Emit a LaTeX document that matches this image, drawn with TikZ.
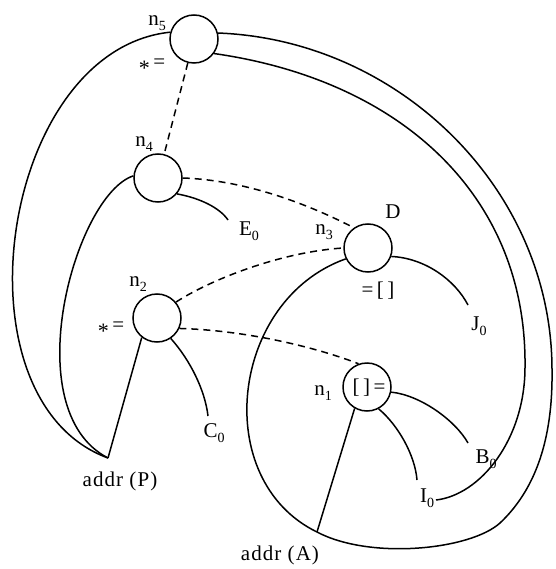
\documentclass[tikz,border=0pt]{standalone}
\usepackage{fontspec}
\setmainfont{Liberation Serif}
\newcommand\lsub[2]{#1\raisebox{-4.5pt}{\fontsize{14}{14}\selectfont #2}}
\newcommand\stareq{\raisebox{-7pt}{\fontsize{22}{22}\selectfont *}\,=}
\begin{document}
\begin{tikzpicture}[x=1pt,y=-1pt,
  vertex/.style={draw, circle, minimum size=48pt, inner sep=0pt, line width=1.5pt},
  edge/.style={line width=1.5pt},
  link/.style={line width=1.5pt, dash pattern=on 7pt off 5pt},
  lbl/.style={font=\fontsize{21}{23}\selectfont\addfontfeature{LetterSpace=5}, inner sep=0pt}]
\useasboundingbox (0,0) rectangle (555,569);

% operator nodes of the DAG
\node[vertex] (n5) at (194,39) {};
\node[vertex] (n4) at (158,178) {};
\node[vertex] (n3) at (368,248) {};
\node[vertex] (n2) at (157,318) {};
\node[vertex] (n1) at (367,387) {};

% leaf end points
\coordinate (P)  at (108,458);
\coordinate (A)  at (317,532);
\coordinate (e0) at (228,220);
\coordinate (c0) at (208,416);
\coordinate (j0) at (468,305);
\coordinate (b0) at (468,443);
\coordinate (i0t) at (417,480);
\coordinate (i0r) at (436,500);

% labels
\node[lbl] (ln5) at (157,23) {\lsub{n}{5}};
\node[lbl] (op5) at (152,67) {\stareq};
\node[lbl] (ln4) at (144,144) {\lsub{n}{4}};
\node[lbl] (ln3) at (324,232) {\lsub{n}{3}};
\node[lbl] (lD)  at (393,212) {D};
\node[lbl] (op3) at (378,291) {=\,[\,]};
\node[lbl] (ln2) at (138,284) {\lsub{n}{2}};
\node[lbl] (op2) at (111,330) {\stareq};
\node[lbl] (ln1) at (323,393) {\lsub{n}{1}};
\node[lbl] (op1) at (369,388) {[\,]\,=};
\node[lbl] (lE)  at (249,231) {\lsub{E}{0}};
\node[lbl] (lC)  at (214,433) {\lsub{C}{0}};
\node[lbl] (lJ)  at (479,326) {\lsub{J}{0}};
\node[lbl] (lB)  at (486,459) {\lsub{B}{0}};
\node[lbl] (lI)  at (427,498) {\lsub{I}{0}};
\node[lbl] (lP)  at (120,481) {addr (P)};
\node[lbl] (lA)  at (280,555) {addr (A)};

% dashed links between operator nodes
\draw[link] (n5) -- (n4);
\draw[link] (n4.0) .. controls (240,180) and (300,200) .. (n3.125);
\draw[link] (n2.40) .. controls (210,280) and (280,252) .. (n3.180);
\draw[link] (n2.-25) .. controls (240,330) and (310,345) .. (n1.110);

% solid edges to addr (P)
\draw[edge] (n5.164) .. controls (0,50) and (-50,400) .. (P);
\draw[edge] (n4.175) .. controls (75,195) and (15,410) .. (P);
\draw[edge] (n2.232) -- (P);

% short edges to leaves
\draw[edge] (n2.-56) .. controls (190,360) and (205,390) .. (c0);
\draw[edge] (n4.-40) .. controls (200,198) and (220,208) .. (e0);
\draw[edge] (n3.-20) .. controls (425,258) and (455,280) .. (j0);
\draw[edge] (n1.-12) .. controls (420,395) and (455,420) .. (b0);
\draw[edge] (n1.-62) .. controls (398,425) and (415,455) .. (i0t);
\draw[edge] (n1.240) -- (A);

% long arcs round the right side
\draw[edge] (n5.14) .. controls (400,40) and (552,190) .. (552,370)
  .. controls (553,440) and (535,490) .. (500,523)
  .. controls (470,550) and (370,560) .. (A);
\draw[edge] (n3.206) .. controls (230,300) and (210,480) .. (A);
\draw[edge] (n5.-36) .. controls (400,80) and (527,195) .. (525,367)
  .. controls (525,440) and (480,495) .. (i0r);
\end{tikzpicture}
\end{document}
